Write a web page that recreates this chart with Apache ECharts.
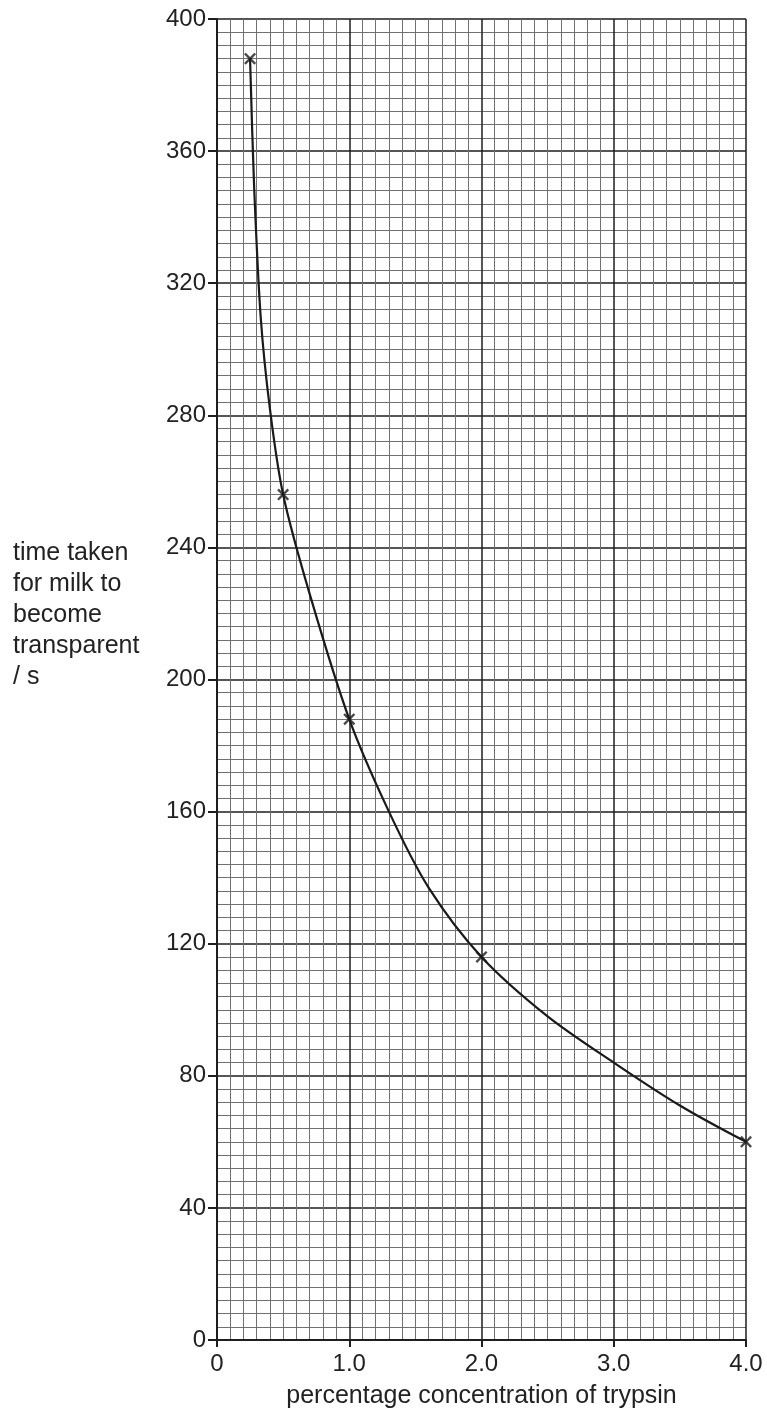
<!DOCTYPE html>
<html>
<head>
<meta charset="utf-8">
<script src="https://cdn.jsdelivr.net/npm/echarts@6/dist/echarts.min.js"></script>
<style>html,body{margin:0;padding:0;background:#fff;}#c{width:767px;height:1414px;}</style>
</head>
<body>
<div id="c"></div>
<script>
// Measured data points (crosses)
var concentration = [0.25, 0.5, 1.0, 2.0, 4.0];
var timeTaken = [388, 256, 188, 116, 60];
// Points
var curveX = [0.25, 0.28, 0.33, 0.40, 0.5, 0.7, 1.0, 1.3, 1.6, 2.0, 2.5, 3.0, 3.5, 4.0];
var curveY = [388, 350, 310, 282, 256, 226, 188, 160, 137, 116, 98, 84, 71, 60];
// Axis tick labels
var xTicks = ['0', '1.0', '2.0', '3.0', '4.0'];
var yTicks = ['0', '40', '80', '120', '160', '200', '240', '280', '320', '360', '400'];

var font = 'Liberation Sans, Arial, sans-serif';
var chart = echarts.init(document.getElementById('c'), null, {renderer: 'canvas'});
var crossPath = 'path://M0,1.4L1.4,0L5,3.6L8.6,0L10,1.4L6.4,5L10,8.6L8.6,10L5,6.4L1.4,10L0,8.6L3.6,5Z';

chart.setOption({
  animation: false,
  backgroundColor: '#fff',
  grid: {left: 217, right: 21, top: 19, bottom: 73, containLabel: false},
  xAxis: {
    type: 'value', min: 0, max: 4, interval: 1,
    name: 'percentage concentration of trypsin',
    nameLocation: 'middle', nameGap: 44,
    nameTextStyle: {fontSize: 25, color: '#222', fontFamily: font},
    axisLine: {show: true, lineStyle: {color: '#1e1e1e', width: 2}},
    axisTick: {show: true, length: 7, lineStyle: {color: '#1e1e1e', width: 2}},
    axisLabel: {fontSize: 24, color: '#222', fontFamily: font, margin: 12,
      formatter: function (v) { return xTicks[Math.round(v)]; }},
    splitLine: {show: true, lineStyle: {color: '#1e1e1e', width: 1.5}},
    minorTick: {show: false, splitNumber: 10},
    minorSplitLine: {show: true, lineStyle: {color: '#707070', width: 1}}
  },
  yAxis: {
    type: 'value', min: 0, max: 400, interval: 40,
    axisLine: {show: true, lineStyle: {color: '#1e1e1e', width: 2}},
    axisTick: {show: true, length: 9, lineStyle: {color: '#1e1e1e', width: 2}},
    axisLabel: {fontSize: 24, color: '#222', fontFamily: font, margin: 11,
      formatter: function (v) { return yTicks[Math.round(v / 40)]; }},
    splitLine: {show: true, lineStyle: {color: '#1e1e1e', width: 1.5}},
    minorTick: {show: false, splitNumber: 10},
    minorSplitLine: {show: true, lineStyle: {color: '#707070', width: 1}}
  },
  graphic: [{
    type: 'text', left: 13, top: 538,
    style: {
      text: 'time taken\nfor milk to\nbecome\ntransparent\n/ s',
      fontSize: 25, lineHeight: 31, fill: '#222', fontFamily: font
    }
  }],
  series: [{
    type: 'line', name: 'curve',
    data: curveX.map(function (x, i) { return [x, curveY[i]]; }),
    smooth: 0.3, showSymbol: false, symbol: 'none',
    lineStyle: {color: '#1a1a1a', width: 2.2},
    z: 3
  }, {
    type: 'scatter', name: 'points',
    data: concentration.map(function (x, i) { return [x, timeTaken[i]]; }),
    symbol: crossPath, symbolSize: 12,
    itemStyle: {color: '#1a1a1a'},
    z: 4
  }]
});
</script>
</body>
</html>
